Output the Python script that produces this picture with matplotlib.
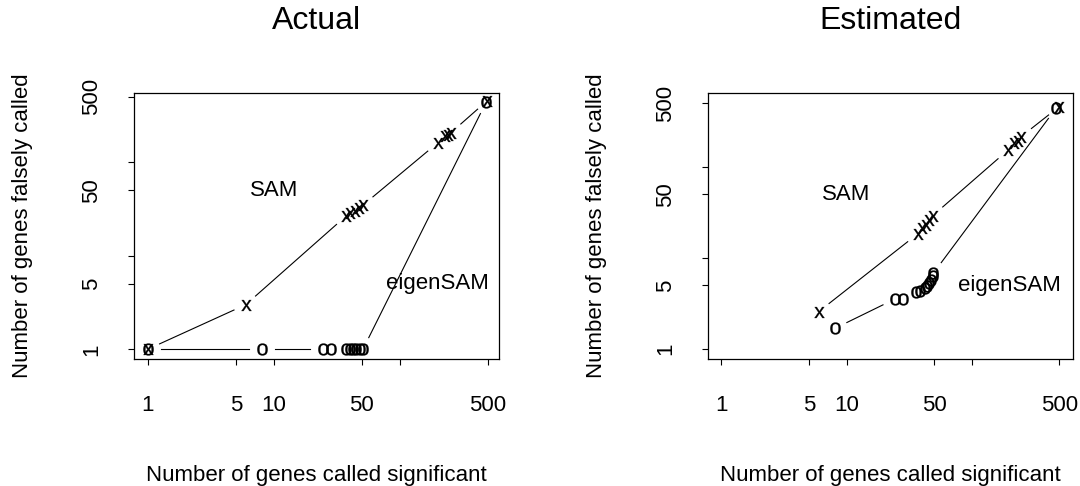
import numpy as np
from matplotlib import pyplot as plt

plt.rcParams['font.family'] = ['Liberation Sans', 'DejaVu Sans']
plt.rcParams['mathtext.fontset'] = 'custom'
plt.rcParams['mathtext.rm'] = 'Liberation Sans'

# ---- data ----
titles = ['Actual', 'Estimated']

act_sam_x = [1, 6, 37.6, 40.6, 43.8, 47.1, 51, 200, 229, 243, 255, 495]
act_sam_y = [1, 3, 26.7, 28.5, 30.2, 32.3, 34.7, 161, 190, 197, 207, 455]
act_eig_x = [1, 8, 24.5, 28.3, 37.6, 39.9, 42.4, 45.1, 47.9, 51, 485]
act_eig_y = [1, 1, 1, 1, 1, 1, 1, 1, 1, 1, 440]

est_sam_x = [6, 37.1, 40.2, 42.7, 45.4, 48.9, 194, 219, 233, 248, 495]
est_sam_y = [2.58, 18.5, 21.4, 23.3, 26.0, 29.3, 153, 182, 193, 216, 457]
est_eig_x = [8.1, 24.2, 28.1, 36.0, 38.3, 42.0, 43.8, 45.9, 47.4, 48.9, 49.4, 472]
est_eig_y = [1.69, 3.53, 3.53, 4.28, 4.39, 4.67, 4.95, 5.30, 5.77, 6.38, 6.83, 445]

tick_vals = [1, 5, 10, 50, 100, 500]
xtick_labels = ['1', '5', '10', '50', '', '500']
ytick_labels = ['1', '5', '', '50', '', '500']

panels = [
    (act_sam_x, act_sam_y, act_eig_x, act_eig_y),
    (est_sam_x, est_sam_y, est_eig_x, est_eig_y),
]
xlims = [(10**-0.109, 10**2.787), (10**-0.107, 10**2.808)]
ylims = [(10**-0.104, 10**2.739), (10**-0.11, 10**2.813)]


def gapped_line(ax, xs, ys, gap=13):
    # R type="b": segments between points, leaving a gap round each point
    pts = ax.transData.transform(np.column_stack([xs, ys]))
    inv = ax.transData.inverted()
    for p0, p1 in zip(pts[:-1], pts[1:]):
        d = p1 - p0
        L = np.hypot(d[0], d[1])
        if L <= 2 * gap:
            continue
        u = d / L
        seg = inv.transform(np.array([p0 + u * gap, p1 - u * gap]))
        ax.plot(seg[:, 0], seg[:, 1], color='black', lw=0.8)


fig = plt.figure(figsize=(10.8, 4.86), dpi=100)
lefts = [134 / 1080, 708 / 1080]
for i, (sx, sy, ex, ey) in enumerate(panels):
    ax = fig.add_axes([lefts[i], 127 / 486, 365 / 1080, 266 / 486])
    ax.set_xscale('log')
    ax.set_yscale('log')
    ax.set_xlim(*xlims[i])
    ax.set_ylim(*ylims[i])
    ax.minorticks_off()
    ax.set_xticks(tick_vals)
    ax.set_xticklabels(xtick_labels)
    ax.set_yticks(tick_vals)
    ax.set_yticklabels(ytick_labels, rotation=90, va='center')
    ax.tick_params(axis='both', direction='out', length=4, width=0.8,
                   labelsize=16, color='black')
    ax.tick_params(axis='x', pad=22)
    ax.tick_params(axis='y', pad=19)
    for sp in ax.spines.values():
        sp.set_linewidth(0.9)

    gapped_line(ax, sx, sy)
    gapped_line(ax, ex, ey)
    ax.plot(sx, sy, ls='none', marker=r'$\mathregular{x}$', ms=7.9,
            color='black', mew=0.2)
    ax.plot(ex, ey, ls='none', marker=r'$\mathregular{o}$', ms=8.6,
            color='black', mew=0.2)

    ax.text(10, 50, 'SAM', fontsize=16, ha='center', va='center')
    ax.text(200, 5, 'eigenSAM', fontsize=16, ha='center', va='center')

    ax.set_title(titles[i], fontsize=23, y=1.239, va='baseline', pad=0)
    ax.set_xlabel('Number of genes called significant', fontsize=16,
                  va='baseline')
    ax.xaxis.set_label_coords(0.5, -0.459)
    ax.set_ylabel('Number of genes falsely called', fontsize=16,
                  va='baseline')
    ax.yaxis.set_label_coords(-0.290, 0.5)

fig.savefig('out.png', dpi=100)
